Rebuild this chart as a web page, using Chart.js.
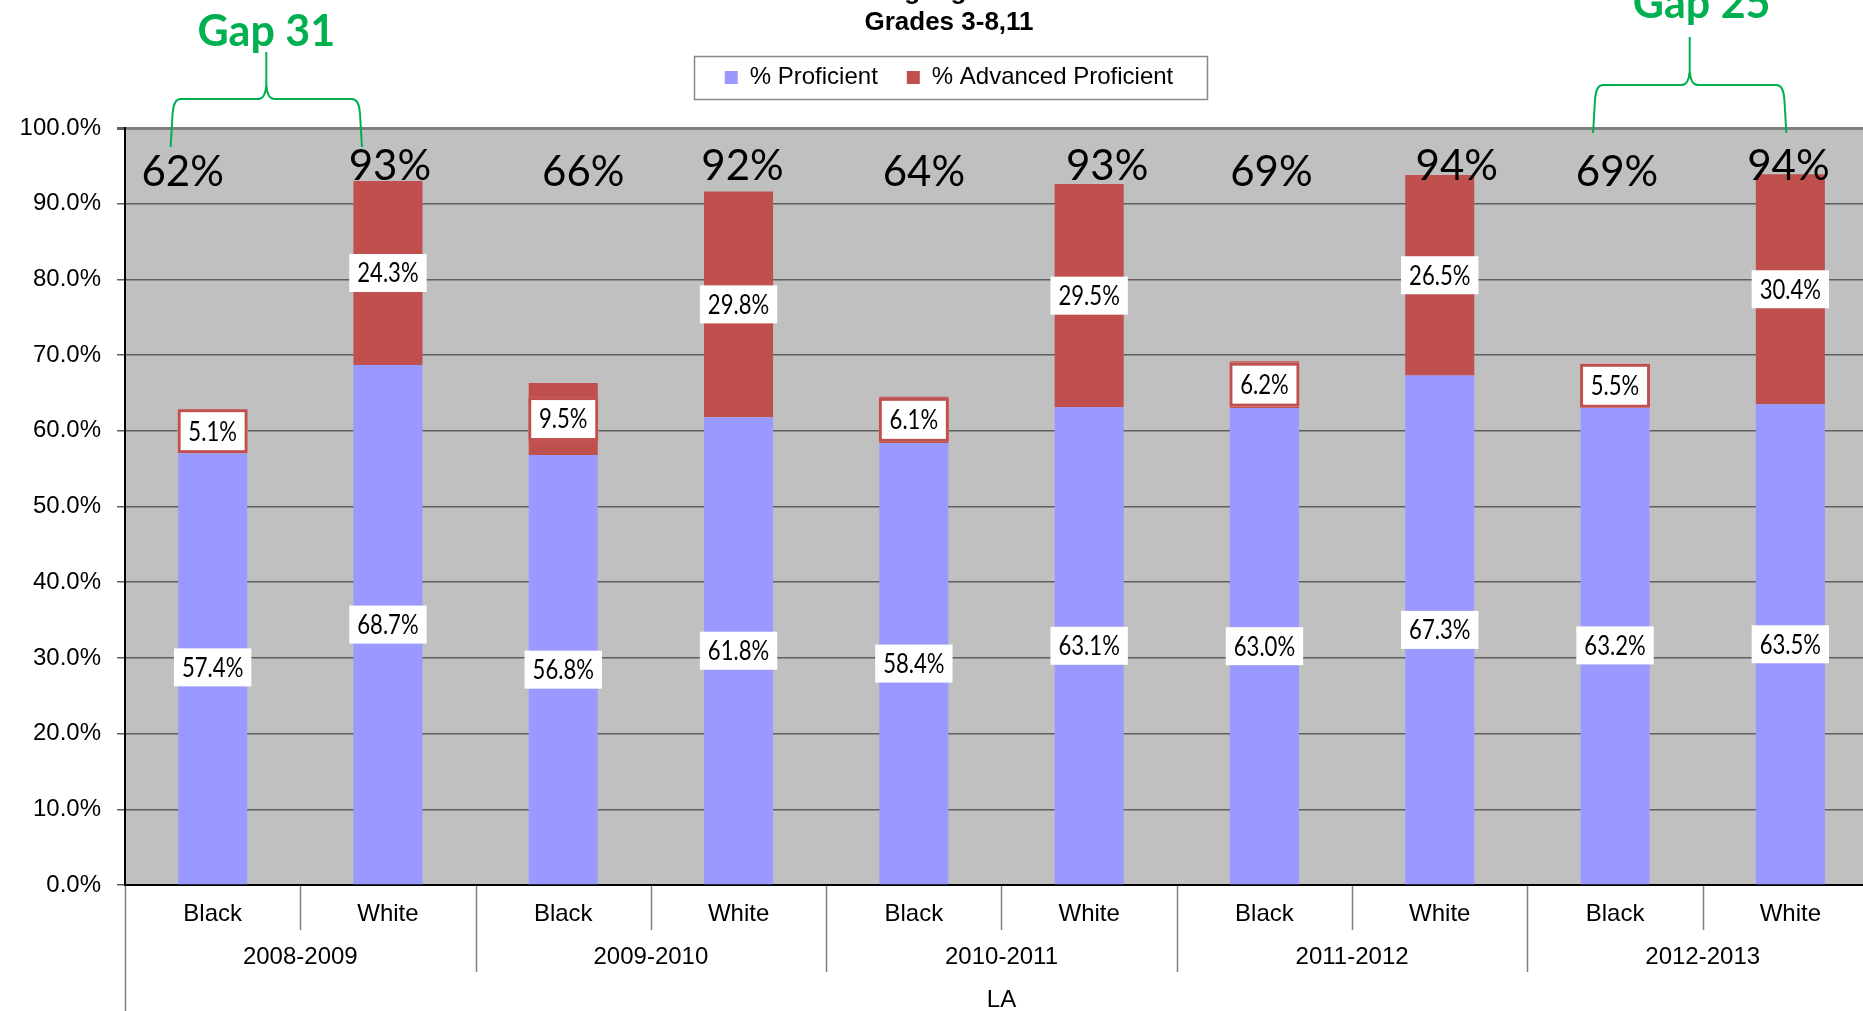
<!DOCTYPE html>
<html>
<head>
<meta charset="utf-8">
<title>LA Proficiency Gap</title>
<script src="https://cdn.jsdelivr.net/npm/chart.js@4.4.1/dist/chart.umd.min.js"></script>
<style>
  html, body { margin: 0; padding: 0; background: #fff; overflow: hidden; width: 1863px; height: 1011px; }
  #wrap { position: absolute; left: 0; top: -26px; width: 1880px; height: 1039px; }
</style>
</head>
<body>
<div id="wrap"><canvas id="gapChart"></canvas></div>
<script>
// --- Data ---
const seasons = ['2008-2009', '2009-2010', '2010-2011', '2011-2012', '2012-2013'];
const groups = ['Black', 'White'];
const categories = seasons.flatMap(() => groups);
const proficient = [57.4, 68.7, 56.8, 61.8, 58.4, 63.1, 63.0, 67.3, 63.2, 63.5];
const advanced = [5.1, 24.3, 9.5, 29.8, 6.1, 29.5, 6.2, 26.5, 5.5, 30.4];
const totalLabels = ['62%', '93%', '66%', '92%', '64%', '93%', '69%', '94%', '69%', '94%'];
const gapPairs = [[0, 1], [8, 9]];
const seriesNames = ['% Proficient', '% Advanced Proficient'];

const profColor = '#9999FF';
const advColor = '#C0504D';
const gapColor = '#00B050';
const FONT = '"Liberation Sans", Arial, sans-serif';
const LABEL_FONT = 'Lato, "Open Sans", sans-serif';

document.addEventListener('DOMContentLoaded', function () {
    Chart.defaults.font.family = FONT;
    Chart.defaults.color = '#000';

    // gray plot area
    const plotBackground = {
        id: 'plotBackground',
        beforeDraw(chart) {
            const a = chart.chartArea;
            chart.ctx.save();
            chart.ctx.fillStyle = '#C0C0C0';
            chart.ctx.fillRect(a.left, a.top, a.right - a.left, a.bottom - a.top);
            chart.ctx.restore();
        }
    };

    // white boxed value labels in the middle of each segment
    const barLabels = {
        id: 'barLabels',
        afterDatasetsDraw(chart) {
            const ctx = chart.ctx;
            chart.data.datasets.forEach((ds, di) => {
                chart.getDatasetMeta(di).data.forEach((bar, i) => {
                    const text = ds.data[i].toFixed(1) + '%';
                    const cy = (bar.y + bar.base) / 2;
                    ctx.save();
                    ctx.font = '26px ' + LABEL_FONT;
                    const tw = ctx.measureText(text).width * 0.85;
                    const bordered = di === 1 && i % 2 === 0;
                    const w = Math.max(tw + 16, 70);
                    const h = bordered ? 44 : 38;
                    ctx.fillStyle = '#fff';
                    ctx.fillRect(bar.x - w / 2, cy - h / 2, w, h);
                    if (bordered) {
                        ctx.strokeStyle = advColor;
                        ctx.lineWidth = 3;
                        ctx.strokeRect(bar.x - w / 2 + 1.5, cy - h / 2 + 1.5, w - 3, h - 3);
                    }
                    ctx.translate(bar.x, cy + 1);
                    ctx.scale(0.85, 1);
                    ctx.fillStyle = '#000';
                    ctx.textAlign = 'center';
                    ctx.textBaseline = 'middle';
                    ctx.fillText(text, 0, 0);
                    ctx.restore();
                });
            });
        }
    };

    // big totals, gap brackets, two-level axis, legend frame
    const annotations = {
        id: 'annotations',
        afterDraw(chart) {
            const ctx = chart.ctx;
            const xs = chart.scales.x;
            const ys = chart.scales.y;
            const area = chart.chartArea;
            const bars = chart.getDatasetMeta(0).data;
            ctx.save();

            // totals over the bars (text boxes sit a little off-centre in the original)
            const nudge = [-30, 2, 20, 4, 10, 18, 7, 17, 2, -2];
            ctx.font = '42px ' + LABEL_FONT;
            ctx.fillStyle = '#000';
            ctx.textAlign = 'center';
            ctx.textBaseline = 'alphabetic';
            totalLabels.forEach((t, i) => {
                ctx.fillText(t, bars[i].x + nudge[i], ys.getPixelForValue(i % 2 === 0 ? 92.4 : 93.1));
            });

            // gap brackets
            const shapes = [
                { l: -42, r: -26, leg: 19, h: -29, apex: -76, base: -82, dx: 0 },
                { l: -22, r: -4, leg: 5, h: -43, apex: -91, base: -110, dx: 12 }
            ];
            gapPairs.forEach(([b, w], k) => {
                const s = shapes[k];
                const xL = bars[b].x + s.l, xR = bars[w].x + s.r, xC = (xL + xR) / 2;
                const legB = area.top + s.leg, yH = area.top + s.h, apex = area.top + s.apex;
                ctx.strokeStyle = gapColor;
                ctx.lineWidth = 2;
                ctx.beginPath();
                ctx.moveTo(xL, legB);
                ctx.lineTo(xL + 2, yH + 14);
                ctx.quadraticCurveTo(xL + 3, yH, xL + 10, yH);
                ctx.lineTo(xC - 8, yH);
                ctx.quadraticCurveTo(xC - 1, yH, xC, yH - 14);
                ctx.lineTo(xC, apex);
                ctx.moveTo(xC, yH - 14);
                ctx.quadraticCurveTo(xC + 1, yH, xC + 8, yH);
                ctx.lineTo(xR - 10, yH);
                ctx.quadraticCurveTo(xR - 3, yH, xR - 2, yH + 14);
                ctx.lineTo(xR, legB);
                ctx.stroke();
                const gap = parseInt(totalLabels[w]) - parseInt(totalLabels[b]);
                ctx.font = 'bold 43px ' + LABEL_FONT;
                ctx.fillStyle = gapColor;
                ctx.fillText('Gap ' + gap, xC + s.dx, area.top + s.base);
            });

            // category separators and season labels
            const step = xs.getPixelForValue(1) - xs.getPixelForValue(0);
            ctx.strokeStyle = '#808080';
            ctx.lineWidth = 1.5;
            for (let i = 0; i <= categories.length; i++) {
                const x = Math.round(xs.getPixelForValue(0) - step / 2 + i * step) + 0.5;
                const len = i === 0 ? chart.height - area.bottom : (i % 2 === 0 ? 87 : 45);
                ctx.beginPath();
                ctx.moveTo(x, area.bottom + 1);
                ctx.lineTo(x, area.bottom + len);
                ctx.stroke();
            }
            ctx.font = '24px ' + FONT;
            ctx.fillStyle = '#000';
            ctx.textBaseline = 'middle';
            seasons.forEach((s, g) => {
                const x = (xs.getPixelForValue(2 * g) + xs.getPixelForValue(2 * g + 1)) / 2;
                ctx.fillText(s, x, area.bottom + 72);
            });

            // legend frame
            const hb = chart.legend.legendHitBoxes;
            if (hb && hb.length) {
                const last = hb[hb.length - 1];
                const left = hb[0].left - 31;
                const right = last.left + last.width + 33;
                const cy = hb[0].top + hb[0].height / 2;
                ctx.strokeStyle = '#888';
                ctx.lineWidth = 1.5;
                ctx.strokeRect(Math.round(left) + 0.5, Math.round(cy - 21.5) + 0.5, Math.round(right - left), 43);
            }
            ctx.restore();
        }
    };

    const ctxGap = document.getElementById('gapChart').getContext('2d');
    new Chart(ctxGap, {
        type: 'bar',
        data: {
            labels: categories,
            datasets: [{
                label: seriesNames[0],
                data: proficient,
                backgroundColor: profColor,
                borderWidth: 0
            }, {
                label: seriesNames[1],
                data: advanced,
                backgroundColor: advColor,
                borderWidth: 0
            }]
        },
        options: {
            responsive: true,
            maintainAspectRatio: false,
            animation: false,
            devicePixelRatio: 1,
            datasets: { bar: { barPercentage: 0.394, categoryPercentage: 1 } },
            layout: { padding: { left: 20, right: 2, top: 0, bottom: 0 } },
            plugins: {
                tooltip: { enabled: false },
                title: {
                    display: true,
                    text: ['Language Arts', 'Grades 3-8,11'],
                    color: '#000',
                    font: { family: FONT, size: 26, weight: 'bold', lineHeight: 1.2 },
                    padding: { top: 2, bottom: -2 }
                },
                subtitle: {
                    // empty spacer between legend and plot
                    display: true,
                    text: '',
                    weight: 500,
                    font: { size: 1, lineHeight: 1 },
                    padding: { top: 27.6, bottom: 0 }
                },
                legend: {
                    position: 'top',
                    labels: {
                        boxWidth: 13,
                        boxHeight: 13,
                        padding: 29,
                        color: '#000',
                        font: { family: FONT, size: 24 }
                    }
                }
            },
            scales: {
                x: {
                    stacked: true,
                    afterFit: s => { s.height = 128; },
                    grid: { display: false, drawTicks: false },
                    border: { color: '#000', width: 2 },
                    ticks: { color: '#000', padding: 15, autoSkip: false, maxRotation: 0, font: { family: FONT, size: 24 } },
                    title: { display: true, text: 'LA', color: '#000', font: { family: FONT, size: 24 }, padding: { top: 0, bottom: -2 } }
                },
                y: {
                    stacked: true,
                    min: 0,
                    max: 100,
                    afterFit: s => { s.width = 105; },
                    border: { color: '#000', width: 2 },
                    grid: {
                        color: c => c.tick && c.tick.value === 100 ? '#808080' : (c.tick && c.tick.value === 0 ? '#000' : '#5f5f5f'),
                        lineWidth: c => c.tick && c.tick.value === 100 ? 3 : 1.5,
                        tickLength: 8,
                        tickColor: '#5f5f5f'
                    },
                    ticks: {
                        stepSize: 10,
                        padding: 16,
                        color: '#000',
                        font: { family: FONT, size: 24 },
                        callback: v => v.toFixed(1) + '%'
                    }
                }
            }
        },
        plugins: [plotBackground, barLabels, annotations]
    });
});
</script>
</body>
</html>
